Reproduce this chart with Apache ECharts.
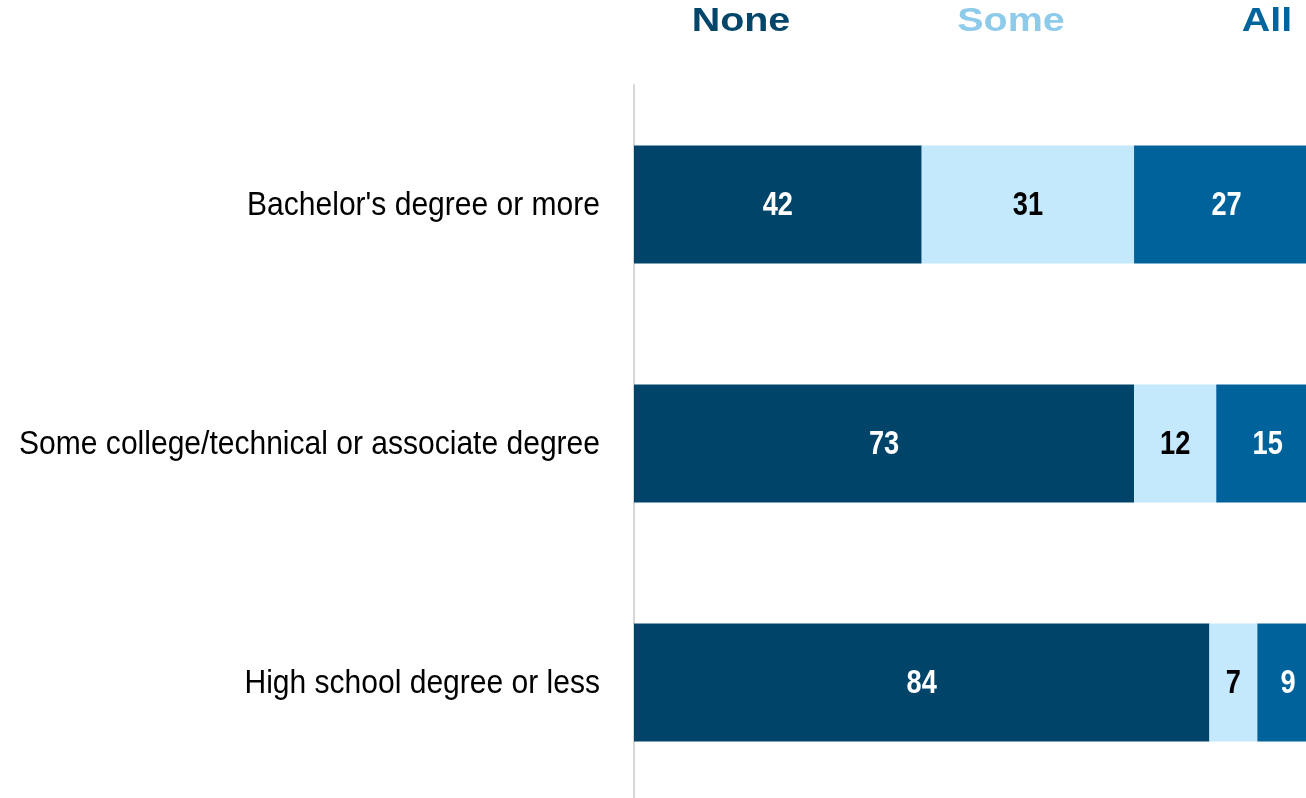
<!DOCTYPE html>
<html>
<head>
<meta charset="utf-8">
<script src="https://cdn.jsdelivr.net/npm/echarts@6/dist/echarts.min.js"></script>
<style>
  html, body { margin: 0; padding: 0; background: #ffffff; }
  #chart { width: 1306px; height: 798px; }
</style>
</head>
<body>
<div id="chart"></div>
<script>
// Education groups, top to bottom
const categories = [
  "Bachelor's degree or more",
  "Some college/technical or associate degree",
  "High school degree or less"
];

// Share of respondents (%) in each group
const noneValues = [42, 73, 84];
const someValues = [31, 12, 7];
const allValues  = [27, 15, 9];

const seriesNames = ['None', 'Some', 'All'];

const FONT = '"Liberation Sans", Arial, Helvetica, sans-serif';
const BAR_COLORS = ['#00446a', '#c4e8fc', '#00629b'];
const HEAD_COLORS = ['#00466b', '#8ecae9', '#00649d'];
const VALUE_COLORS = ['#ffffff', '#000000', '#ffffff'];
const HEAD_X = [741, 1011, 1267];

const seriesValues = [noneValues, someValues, allValues];

const chart = echarts.init(document.getElementById('chart'), null, { renderer: 'canvas' });

chart.setOption({
  animation: false,
  backgroundColor: '#ffffff',
  // The plot runs slightly past the right edge, so the last segments are cut off.
  grid: { left: 634, top: 85, width: 685, height: 717, containLabel: false, outerBoundsMode: 'none' },
  xAxis: { type: 'value', min: 0, max: 100, show: false },
  yAxis: {
    type: 'category',
    data: categories,
    inverse: true,
    axisLine: { show: true, lineStyle: { color: '#d6d6d6', width: 2 } },
    axisTick: { show: false },
    axisLabel: { show: false }
  },
  series: seriesNames.map(function (name, i) {
    return {
      name: name,
      type: 'bar',
      stack: 'total',
      data: seriesValues[i],
      barWidth: 118,
      itemStyle: { color: BAR_COLORS[i] },
      label: { show: false },
      emphasis: { disabled: true }
    };
  })
});

// Text is drawn as graphic elements so the condensed lettering can be scaled horizontally.
function label(text, x, y, font, fill, align, sx) {
  return {
    type: 'text',
    x: x,
    y: y,
    z: 100,
    scaleX: sx,
    silent: true,
    style: { text: text, x: 0, y: 0, font: font, fill: fill, align: align, verticalAlign: 'middle' }
  };
}

const texts = [];

// Column headers
seriesNames.forEach(function (name, i) {
  texts.push(label(name, HEAD_X[i], 22, 'bold 34px ' + FONT, HEAD_COLORS[i], 'center', 1.16));
});

// Category labels, placed on the category axis
categories.forEach(function (cat, c) {
  const y = chart.convertToPixel({ yAxisIndex: 0 }, c);
  texts.push(label(cat, 600, y + 1, '33px ' + FONT, '#000000', 'right', 0.91));
});

// Value labels centred in each stacked segment
categories.forEach(function (cat, c) {
  const y = chart.convertToPixel({ yAxisIndex: 0 }, c);
  let start = 0;
  seriesValues.forEach(function (vals, s) {
    const v = vals[c];
    const x = chart.convertToPixel({ xAxisIndex: 0 }, start + v / 2);
    texts.push(label(String(v), x, y + 1, 'bold 34px ' + FONT, VALUE_COLORS[s], 'center', 0.8));
    start += v;
  });
});

chart.setOption({ graphic: texts });
</script>
</body>
</html>
